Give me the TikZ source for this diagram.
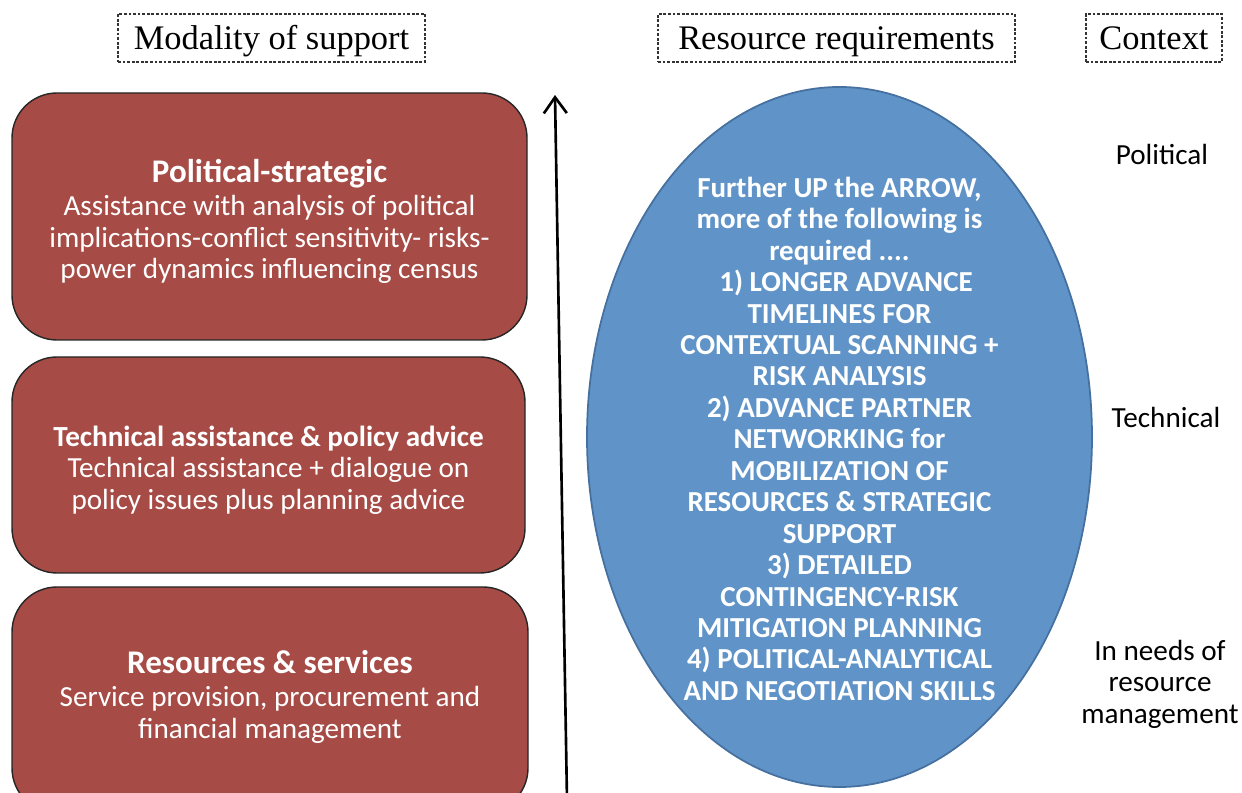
\documentclass[tikz,border=0pt]{standalone}
\usepackage{fontspec}
\setmainfont{Carlito}
\newfontfamily\headfont{Liberation Serif}
\usetikzlibrary{arrows.meta,positioning,shapes}

\definecolor{boxred}{RGB}{166,75,69}
\definecolor{ovalblue}{RGB}{96,148,200}
\definecolor{ovalline}{RGB}{70,112,160}

\begin{document}
\begin{tikzpicture}[x=0.02cm,y=-0.02cm,
  head/.style={draw=black!80,dash pattern=on 1.6pt off 1pt,line width=0.6pt,font=\headfont\fontsize{19.6}{22}\selectfont,inner sep=0pt,text height=17.6pt,text depth=4pt,minimum height=48*0.02cm},
  modebox/.style={draw=black!85,line width=0.8pt,fill=boxred,rounded corners=0.9cm},
  modetext/.style={text=white,align=center,font=\fontsize{16.6}{17.9}\selectfont},
  ctx/.style={align=center,font=\fontsize{16.6}{17.9}\selectfont}]
  \useasboundingbox (0,0) rectangle (1242,793);

  % column headings
  \node[head,minimum width=307*0.02cm] (h1) at (271.5,38) {Modality of support};
  \node[head,minimum width=357*0.02cm] (h2) at (836.5,38) {Resource requirements};
  \node[head,minimum width=136*0.02cm] (h3) at (1154,38)  {Context};

  % modality boxes
  \node[modebox,minimum width=515*0.02cm,minimum height=247*0.02cm] (ps) at (269.5,216.5) {};
  \node[modetext] (pstxt) at ([yshift=-2.8pt]ps.center)
    {\textbf{\fontsize{18.8}{19.5}\selectfont Political-strategic}\\[1pt] Assistance with analysis of political\\ implications-conflict sensitivity- risks-\\ power dynamics influencing census};
  \node[modebox,minimum width=513*0.02cm,minimum height=216*0.02cm] (ta) at (268.5,465) {};
  \node[modetext] (tatxt) at ([yshift=-2.8pt]ta.center)
    {\textbf{Technical assistance \& policy advice}\\ Technical assistance + dialogue on\\ policy issues plus planning advice};
  \node[modebox,minimum width=516*0.02cm,minimum height=226*0.02cm] (rs) at (270,700) {};
  \node[modetext] (rstxt) at ([yshift=1.7pt]rs.center)
    {\textbf{\fontsize{18.8}{19.5}\selectfont Resources \& services}\\[1pt] Service provision, procurement and\\ financial management};

  % upward arrow
  \coordinate (lo) at (567,800);
  \coordinate (hi) at (555,95);
  \draw[line width=1.5pt,-{Straight Barb[length=3.2mm,width=4.6mm,line width=1.5pt]}] (lo) -- (hi);

  % requirements oval
  \node[ellipse,draw=ovalline,line width=1pt,fill=ovalblue,minimum width=505*0.02cm,minimum height=700*0.02cm] (req) at (839.5,437) {};
  \node[text=white,align=center,font=\bfseries\fontsize{16.5}{17.9}\selectfont] (reqtxt) at ([yshift=-1pt]req.center)
    {Further UP the ARROW,\\ more of the following is\\ required ....\\
     \ \ 1) LONGER ADVANCE\\ TIMELINES FOR\\ CONTEXTUAL SCANNING +\\ RISK ANALYSIS\\
     2) ADVANCE PARTNER\\ NETWORKING for\\ MOBILIZATION OF\\ RESOURCES \& STRATEGIC\\ SUPPORT\\
     3) DETAILED\\ CONTINGENCY-RISK\\ MITIGATION PLANNING\\
     4) POLITICAL-ANALYTICAL\\ AND NEGOTIATION SKILLS};

  % context labels
  \node[ctx] (pol) at (1162,154) {Political};
  \node[ctx] (tec) at (1166,417) {Technical};
  \node[ctx] (man) at (1160,684) {In needs of\\ resource\\ management};
\end{tikzpicture}
\end{document}
